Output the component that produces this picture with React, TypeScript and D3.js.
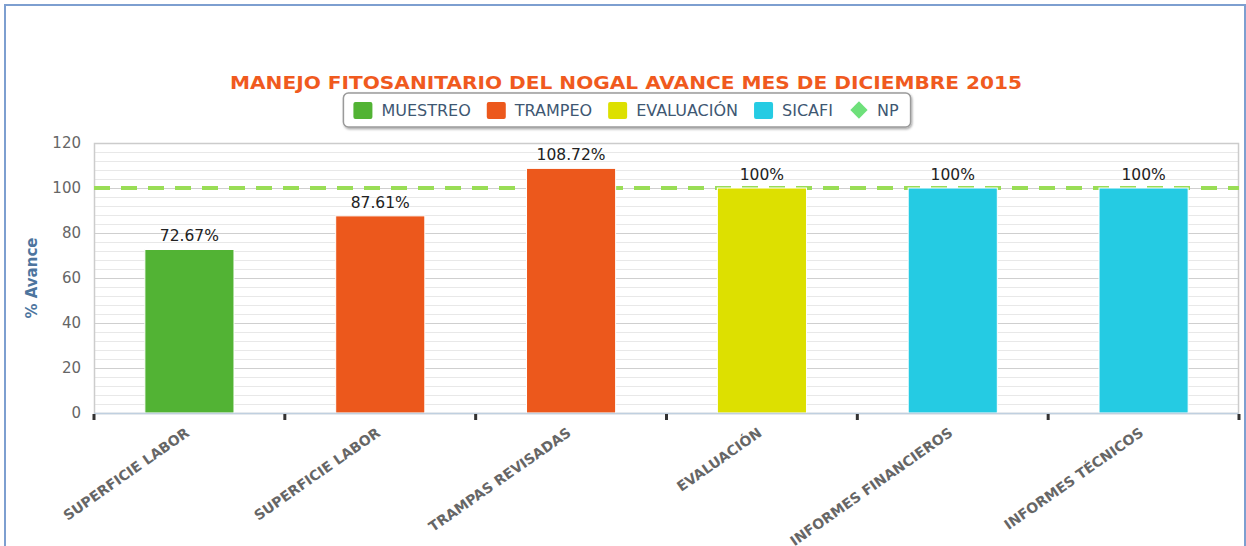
import { useEffect, useRef } from 'react';
import * as d3 from 'd3';

// chart data
const categories = [
  'SUPERFICIE LABOR',
  'SUPERFICIE LABOR',
  'TRAMPAS REVISADAS',
  'EVALUACIÓN',
  'INFORMES FINANCIEROS',
  'INFORMES TÉCNICOS',
];
const values = [72.67, 87.61, 108.72, 100, 100, 100];
const valueLabels = ['72.67%', '87.61%', '108.72%', '100%', '100%', '100%'];
const seriesOf = ['MUESTREO', 'TRAMPEO', 'TRAMPEO', 'EVALUACIÓN', 'SICAFI', 'SICAFI'];
const legendNames = ['MUESTREO', 'TRAMPEO', 'EVALUACIÓN', 'SICAFI', 'NP'];
const npValue = 100;
const yTicks = [0, 20, 40, 60, 80, 100, 120];

const COLORS: Record<string, string> = {
  MUESTREO: '#52b334',
  TRAMPEO: '#ec581c',
  'EVALUACIÓN': '#dde000',
  SICAFI: '#25cbe3',
  NP: '#6ee07a',
};

const FONT = '"DejaVu Sans", Verdana, sans-serif';

export default function App() {
  const svgRef = useRef<SVGSVGElement>(null);

  useEffect(() => {
    const W = 1246;
    const H = 546;
    const margin = { top: 143, right: 7, bottom: 133, left: 94 };
    const innerW = W - margin.left - margin.right;
    const innerH = H - margin.top - margin.bottom;

    const svg = d3.select(svgRef.current);
    svg.selectAll('*').remove();

    // drop shadow for the legend box
    const defs = svg.append('defs');
    const f = defs.append('filter').attr('id', 'shadow').attr('x', '-5%').attr('y', '-30%').attr('width', '110%').attr('height', '170%');
    f.append('feDropShadow').attr('dx', 1).attr('dy', 1.5).attr('stdDeviation', 1.2).attr('flood-color', '#000').attr('flood-opacity', 0.35);

    // outer frame
    svg.append('rect')
      .attr('x', 5).attr('y', 5)
      .attr('width', 1240).attr('height', 560)
      .attr('fill', 'none')
      .attr('stroke', '#7d9fd0')
      .attr('stroke-width', 2);

    // title
    svg.append('text')
      .attr('x', 626).attr('y', 89)
      .attr('text-anchor', 'middle')
      .attr('textLength', 792)
      .attr('lengthAdjust', 'spacingAndGlyphs')
      .style('font-family', FONT)
      .style('font-size', '18.5px')
      .style('font-weight', 'bold')
      .style('fill', '#f05a1e')
      .text('MANEJO FITOSANITARIO DEL NOGAL AVANCE MES DE DICIEMBRE 2015');

    const g = svg.append('g').attr('transform', `translate(${margin.left},${margin.top})`);

    const x = d3.scaleBand<number>()
      .domain(d3.range(categories.length))
      .range([0, innerW])
      .paddingInner(0)
      .paddingOuter(0);

    const y = d3.scaleLinear().domain([0, 120]).range([innerH, 0]);

    // minor gridlines
    g.append('g')
      .selectAll('line')
      .data(d3.range(0, 121, 4).filter(v => v % 20 !== 0))
      .join('line')
      .attr('x1', 0).attr('x2', innerW)
      .attr('y1', d => y(d) + 0.5).attr('y2', d => y(d) + 0.5)
      .attr('stroke', '#e8e8e8')
      .attr('stroke-width', 1);

    // major gridlines
    g.append('g')
      .selectAll('line')
      .data(yTicks.filter(v => v > 0))
      .join('line')
      .attr('x1', 0).attr('x2', innerW)
      .attr('y1', d => y(d) + 0.5).attr('y2', d => y(d) + 0.5)
      .attr('stroke', '#cfcfcf')
      .attr('stroke-width', 1);

    // plot border
    g.append('rect')
      .attr('x', 0.5).attr('y', 0.5)
      .attr('width', innerW - 1).attr('height', innerH)
      .attr('fill', 'none')
      .attr('stroke', '#cccccc')
      .attr('stroke-width', 1.5);

    // NP dashed line
    g.append('line')
      .attr('x1', 0).attr('x2', innerW)
      .attr('y1', y(npValue)).attr('y2', y(npValue))
      .attr('stroke', '#99dd55')
      .attr('stroke-width', 4)
      .attr('stroke-dasharray', '16,11');

    // bars
    const barW = x.bandwidth() * 0.467;
    g.selectAll('.bar')
      .data(values)
      .join('rect')
      .attr('class', 'bar')
      .attr('x', (_, i) => (x(i) as number) + x.bandwidth() / 2 - barW / 2)
      .attr('y', d => y(d))
      .attr('width', barW)
      .attr('height', d => innerH - y(d))
      .attr('fill', (_, i) => COLORS[seriesOf[i]])
      .attr('stroke', '#ffffff')
      .attr('stroke-width', 1);

    // value labels
    g.selectAll('.vlabel')
      .data(values)
      .join('text')
      .attr('class', 'vlabel')
      .attr('x', (_, i) => (x(i) as number) + x.bandwidth() / 2)
      .attr('y', d => y(d) - 8)
      .attr('text-anchor', 'middle')
      .style('font-family', FONT)
      .style('font-size', '15.5px')
      .style('fill', '#222')
      .text((_, i) => valueLabels[i]);

    // x axis line + ticks
    g.append('line')
      .attr('x1', 0).attr('x2', innerW)
      .attr('y1', innerH + 0.5).attr('y2', innerH + 0.5)
      .attr('stroke', '#c0d0e0')
      .attr('stroke-width', 1.5);

    g.append('g')
      .selectAll('rect')
      .data(d3.range(categories.length + 1))
      .join('rect')
      .attr('x', i => (i < categories.length ? (x(i) as number) : innerW) - 1.5)
      .attr('y', innerH + 1)
      .attr('width', 3)
      .attr('height', 6)
      .attr('fill', '#333');

    // x labels, rotated
    g.selectAll('.xlabel')
      .data(categories)
      .join('text')
      .attr('class', 'xlabel')
      .attr('text-anchor', 'end')
      .attr('transform', (_, i) => `translate(${(x(i) as number) + x.bandwidth() / 2 + 1},${innerH + 22}) rotate(-35)`)
      .style('font-family', FONT)
      .style('font-size', '14px')
      .style('font-weight', 'bold')
      .style('fill', '#666')
      .text(d => d);

    // y tick labels
    g.selectAll('.ylabel')
      .data(yTicks)
      .join('text')
      .attr('class', 'ylabel')
      .attr('x', -13)
      .attr('y', d => y(d) + 5)
      .attr('text-anchor', 'end')
      .style('font-family', FONT)
      .style('font-size', '15px')
      .style('fill', '#666')
      .text(d => d);

    // y axis title
    g.append('text')
      .attr('transform', `translate(${32 - margin.left + 5},${innerH / 2}) rotate(-90)`)
      .attr('text-anchor', 'middle')
      .style('font-family', FONT)
      .style('font-size', '15px')
      .style('font-weight', 'bold')
      .style('fill', '#4d759e')
      .text('% Avance');

    // legend
    const legend = svg.append('g');
    const box = legend.append('rect')
      .attr('rx', 5).attr('ry', 5)
      .attr('fill', '#fff')
      .attr('stroke', '#9a9a9a')
      .attr('stroke-width', 1.5)
      .attr('filter', 'url(#shadow)');

    const items = legend.append('g');
    let cx = 0;
    const cy = 110;
    legendNames.forEach(name => {
      const it = items.append('g').attr('transform', `translate(${cx},0)`);
      if (name === 'NP') {
        it.append('path')
          .attr('d', d3.symbol().type(d3.symbolDiamond2).size(190)())
          .attr('transform', `translate(10,${cy})`)
          .attr('fill', COLORS[name]);
      } else {
        it.append('rect')
          .attr('x', 0).attr('y', cy - 8)
          .attr('width', 19).attr('height', 17)
          .attr('rx', 2)
          .attr('fill', COLORS[name]);
      }
      const t = it.append('text')
        .attr('x', 28).attr('y', cy + 6)
        .style('font-family', FONT)
        .style('font-size', '16px')
        .style('fill', '#3e5772')
        .text(name);
      const tw = (t.node() as SVGTextElement).getComputedTextLength();
      cx += 28 + tw + 16;
    });
    const itemsW = cx - 16;
    const boxW = itemsW + 22;
    const boxX = 627 - boxW / 2;
    items.attr('transform', `translate(${boxX + 10},0)`);
    box.attr('x', boxX).attr('y', 93).attr('width', boxW).attr('height', 34);
  }, []);

  return (
    <svg
      ref={svgRef}
      width={1246}
      height={546}
      style={{ position: 'absolute', left: 0, top: 0, background: '#fff' }}
    />
  );
}
